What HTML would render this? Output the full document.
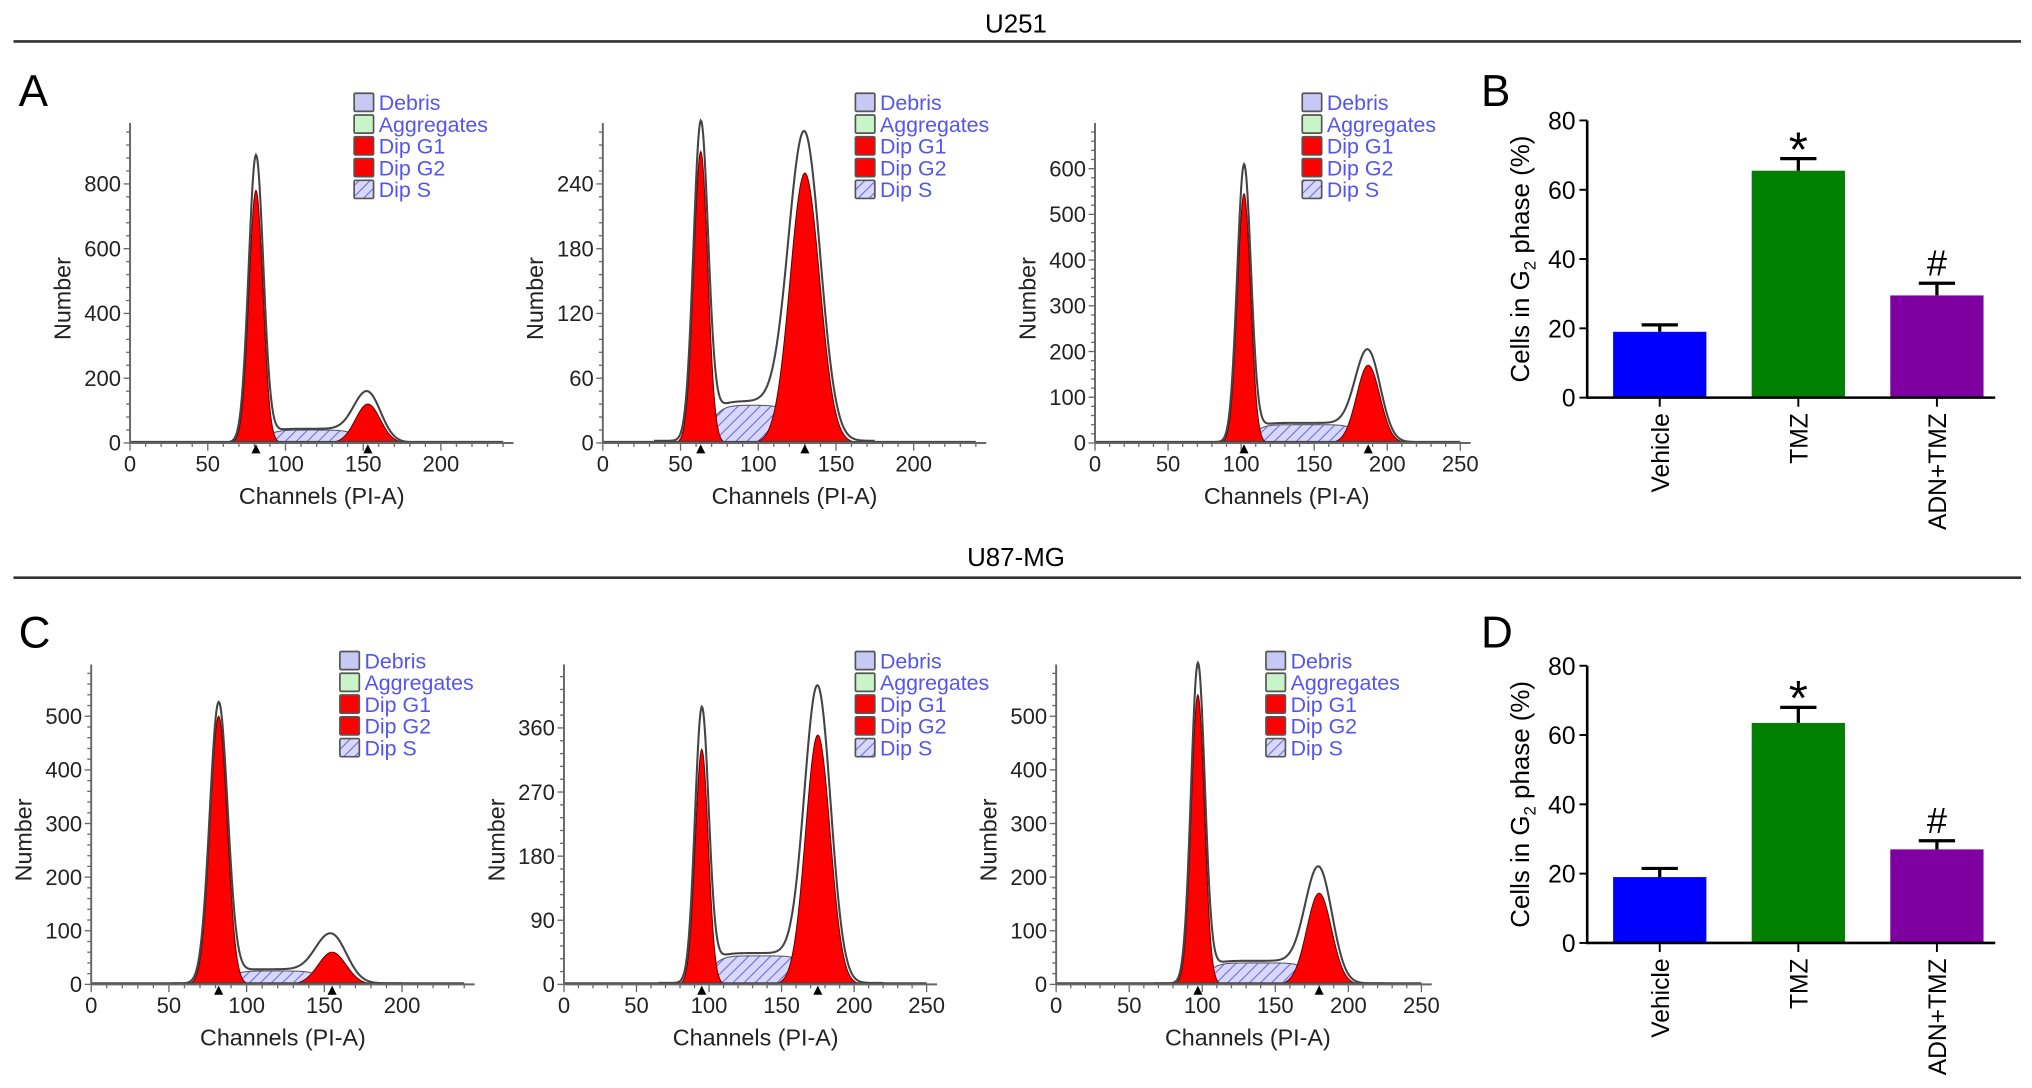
<!DOCTYPE html>
<html><head><meta charset="utf-8"><style>
html,body{margin:0;padding:0;background:#fff}
svg{display:block}
text{font-family:"Liberation Sans",sans-serif}
</style></head><body>
<svg id="fig" width="2032" height="1088" viewBox="0 0 1568 840" xmlns="http://www.w3.org/2000/svg">
<defs>
<pattern id="hatch" width="6" height="6" patternUnits="userSpaceOnUse" patternTransform="rotate(45)">
<rect width="6" height="6" fill="#d8d8ff"/><line x1="0" y1="0" x2="0" y2="6" stroke="#6a6ad8" stroke-width="1.6"/>
</pattern>
</defs>
<text x="784" y="25" font-size="20" text-anchor="middle">U251</text>
<line x1="10" y1="32" x2="1560" y2="32" stroke="#333" stroke-width="2"/>
<text x="784" y="437" font-size="20" text-anchor="middle">U87-MG</text>
<line x1="10" y1="446" x2="1560" y2="446" stroke="#333" stroke-width="2"/>
<text x="14" y="82" font-size="34">A</text>
<text x="1143" y="82" font-size="34">B</text>
<text x="14" y="500" font-size="34">C</text>
<text x="1143" y="500" font-size="34">D</text>
<g id="root"></g>
</svg>
<script>
// Histogram panels data
const histG1Mean = [81, 63, 102, 82, 95, 97];
const histG1Height = [780, 270, 545, 500, 330, 540];
const histG1Peak = [880, 290, 600, 520, 380, 590];
const histG1Sd = [4.5, 4.5, 4.5, 5.5, 4.5, 4.5];
const histG2Mean = [153, 130, 187, 155, 175, 180];
const histG2Height = [120, 250, 170, 60, 350, 170];
const histG2Peak = [150, 280, 195, 88, 410, 210];
const histG2Sd = [8, 9.5, 8, 9, 8.5, 8.5];
const histSLevel = [40, 35, 40, 25, 40, 40];
const histYTicks = [[0,200,400,600,800],[0,60,120,180,240],[0,100,200,300,400,500,600],[0,100,200,300,400,500],[0,90,180,270,360],[0,100,200,300,400,500]];
const histXTicks = [[0,50,100,150,200],[0,50,100,150,200],[0,50,100,150,200,250],[0,50,100,150,200],[0,50,100,150,200,250],[0,50,100,150,200,250]];
// Bar charts data
const barCategories = ["Vehicle","TMZ","ADN+TMZ"];
const barValuesB = [19, 65.5, 29.5];
const barErrorsB = [2, 3.5, 3.5];
const barValuesD = [19, 63.5, 27];
const barErrorsD = [2.5, 4.5, 2.5];
const barYTicks = [0,20,40,60,80];
const barMarks = ["", "*", "#"];

const NS="http://www.w3.org/2000/svg";
const root=document.getElementById('root');
function mk(tag,attrs,parent,txt){const e=document.createElementNS(NS,tag);for(const k in attrs)e.setAttribute(k,attrs[k]);if(txt!==undefined)e.textContent=txt;(parent||root).appendChild(e);return e;}

const hLayout=[
 {ox:100,oy:342,xpx:1.2,xmax:240,ymaxPx:95,ypx:50/200,legX:273,legY:72,ylab:50},
 {ox:465,oy:342,xpx:1.2,xmax:240,ymaxPx:95,ypx:50/60,legX:660,legY:72,ylab:415},
 {ox:845,oy:342,xpx:282/250,xmax:250,ymaxPx:95,ypx:35.3/100,legX:1005,legY:72,ylab:795},
 {ox:70,oy:760,xpx:1.2,xmax:240,ymaxPx:513,ypx:41.4/100,legX:262,legY:503,ylab:20},
 {ox:435,oy:760,xpx:280/250,xmax:250,ymaxPx:513,ypx:49.5/90,legX:660,legY:503,ylab:385},
 {ox:815,oy:760,xpx:282/250,xmax:250,ymaxPx:513,ypx:41.4/100,legX:977,legY:503,ylab:765}
];
function gauss(x,m,s,h){return h*Math.exp(-0.5*((x-m)/s)**2);}
function sComp(x,i){const a=histG1Mean[i],b=histG2Mean[i];return histSLevel[i]/(1+Math.exp(-(x-a-6)/4))/(1+Math.exp((x-b+6)/4));}

for(let i=0;i<6;i++){
 const L=hLayout[i];
 const g=mk('g',{});
 
 
 const X=v=>L.ox+v*L.xpx, Y=v=>L.oy-v*L.ypx;
 const xs=[];for(let x=0;x<=L.xmax;x+=0.5)xs.push(x);
 function area(fn,fill,name,stroke){
  let d='M'+X(0)+','+Y(0);xs.forEach(x=>{d+=' L'+X(x).toFixed(2)+','+Y(fn(x)).toFixed(2);});d+=' L'+X(L.xmax)+','+Y(0)+'Z';
  const p=mk('path',{d:d,fill:fill,stroke:stroke||'#600','stroke-width':0.8},g);
  
  
 }
 area(x=>sComp(x,i),'url(#hatch)','s-phase-area','#555');
 area(x=>gauss(x,histG1Mean[i],histG1Sd[i],histG1Height[i]),'#f00','g1-peak');
 area(x=>gauss(x,histG2Mean[i],histG2Sd[i],histG2Height[i]),'#f00','g2-peak');
 let d='';xs.forEach((x,k)=>{if(x<histG1Mean[i]-30)return;if(x>histG2Mean[i]+45)return;const v=gauss(x,histG1Mean[i],histG1Sd[i]*1.05,histG1Peak[i])+gauss(x,histG2Mean[i],histG2Sd[i]*1.05,histG2Peak[i])+sComp(x,i)*1.05+2;d+=(d?' L':'M')+X(x).toFixed(2)+','+Y(v).toFixed(2);});
 const o=mk('path',{d:d,fill:'none',stroke:'#444','stroke-width':1.6},g);
 
 
 const bl=mk('line',{x1:X(0),y1:Y(0)-1,x2:X(L.xmax),y2:Y(0)-1,stroke:'#444','stroke-width':1.2},g);
 
 
 const ya=mk('line',{x1:L.ox,y1:L.oy,x2:L.ox,y2:L.ymaxPx,stroke:'#666','stroke-width':1.5},g);
 
 
 const xa=mk('line',{x1:L.ox,y1:L.oy,x2:X(L.xmax)+8,y2:L.oy,stroke:'#666','stroke-width':1.5},g);
 
 
 const yt=histYTicks[i], step=yt[1]-yt[0];
 for(let v=0;Y(v)>=L.ymaxPx;v+=step/5){const big=Math.abs(v/step-Math.round(v/step))<1e-6;mk('line',{x1:L.ox-(big?5:3),y1:Y(v),x2:L.ox,y2:Y(v),stroke:'#666','stroke-width':1},g);}
 yt.forEach(v=>{const t=mk('text',{x:L.ox-7,y:Y(v)+6,'font-size':17,'text-anchor':'end',fill:'#222'},g,String(v));});
 for(let v=0;v<=L.xmax;v+=10){const big=v%50===0;mk('line',{x1:X(v),y1:L.oy,x2:X(v),y2:L.oy+(big?6:3),stroke:'#666','stroke-width':1},g);}
 histXTicks[i].forEach(v=>{const t=mk('text',{x:X(v),y:L.oy+22,'font-size':17,'text-anchor':'middle',fill:'#222'},g,String(v));});
 [histG1Mean[i],histG2Mean[i]].forEach(m=>{const tri=mk('path',{d:`M${X(m)-3.5},${L.oy+8} L${X(m)+3.5},${L.oy+8} L${X(m)},${L.oy+1}Z`,fill:'#000'},g);});
 const xt=mk('text',{x:L.ox+148,y:L.oy+47,'font-size':18,'text-anchor':'middle',fill:'#222'},g,'Channels (PI-A)');
 
 
 const ytt=mk('text',{x:0,y:0,'font-size':18,'text-anchor':'middle',fill:'#222',transform:`translate(${L.ylab+4},${(L.oy+L.ymaxPx)/2+12}) rotate(-90)`},g,'Number');
 
 
 const leg=[["Debris","#c8c8f4"],["Aggregates","#c8f4c8"],["Dip G1","#f00"],["Dip G2","#f00"],["Dip S","url(#hatch)"]];
 leg.forEach((e,k)=>{const yy=L.legY+k*16.8;const lg=mk('g',{},g);
  mk('rect',{x:L.legX,y:yy,width:15,height:14,fill:e[1],stroke:'#555','stroke-width':1.3,rx:1},lg);
  mk('text',{x:L.legX+19,y:yy+13,'font-size':16.5,fill:'#5555ee'},lg,e[0]);});
}

function barChart(vals,errs,oy,ytop,name){
 const g=mk('g',{});
 
 
 const ox=1225, Y=v=>oy-(oy-ytop)*v/80;
 const centers=[1281,1388,1495], colors=['#0000ff','#007f00','#7f00a0'];
 vals.forEach((v,k)=>{
  const r=mk('rect',{x:centers[k]-36,y:Y(v),width:72,height:oy-Y(v),fill:colors[k]},g);
  
  
  const top=Y(v+errs[k]);
  const e=mk('path',{d:`M${centers[k]},${Y(v)} L${centers[k]},${top} M${centers[k]-14},${top} L${centers[k]+14},${top}`,stroke:'#000','stroke-width':2.5,fill:'none'},g);
  
  
  if(barMarks[k]){const m=mk('text',{x:centers[k],y:top-(barMarks[k]==='*'?-6:6),'font-size':barMarks[k]==='*'?38:28,'text-anchor':'middle'},g,barMarks[k]);}
  const lt=mk('line',{x1:centers[k],y1:oy,x2:centers[k],y2:oy+7,stroke:'#000','stroke-width':1.5},g);
  
  
  const t=mk('text',{x:0,y:0,'font-size':19,'text-anchor':'end',transform:`translate(${centers[k]+7},${oy+12}) rotate(-90)`},g,barCategories[k]);
  
  
 });
 const ax=mk('path',{d:`M${ox},${ytop} L${ox},${oy} L1540,${oy}`,stroke:'#000','stroke-width':2,fill:'none'},g);
 
 
 barYTicks.forEach(v=>{mk('line',{x1:ox-6,y1:Y(v),x2:ox,y2:Y(v),stroke:'#000','stroke-width':1.5},g);
  const t=mk('text',{x:ox-9,y:Y(v)+7,'font-size':19,'text-anchor':'end'},g,String(v));});
 const yt=mk('text',{x:0,y:0,'font-size':20,'text-anchor':'middle',transform:`translate(1180,${(oy+ytop)/2}) rotate(-90)`},g);
 
 
 mk('tspan',{},yt,'Cells in G');mk('tspan',{dy:5,'font-size':13},yt,'2');mk('tspan',{dy:-5},yt,' phase (%)');
}
barChart(barValuesB,barErrorsB,307,93,'bar-chart-b');
barChart(barValuesD,barErrorsD,728,514,'bar-chart-d');
</script>
</body></html>
